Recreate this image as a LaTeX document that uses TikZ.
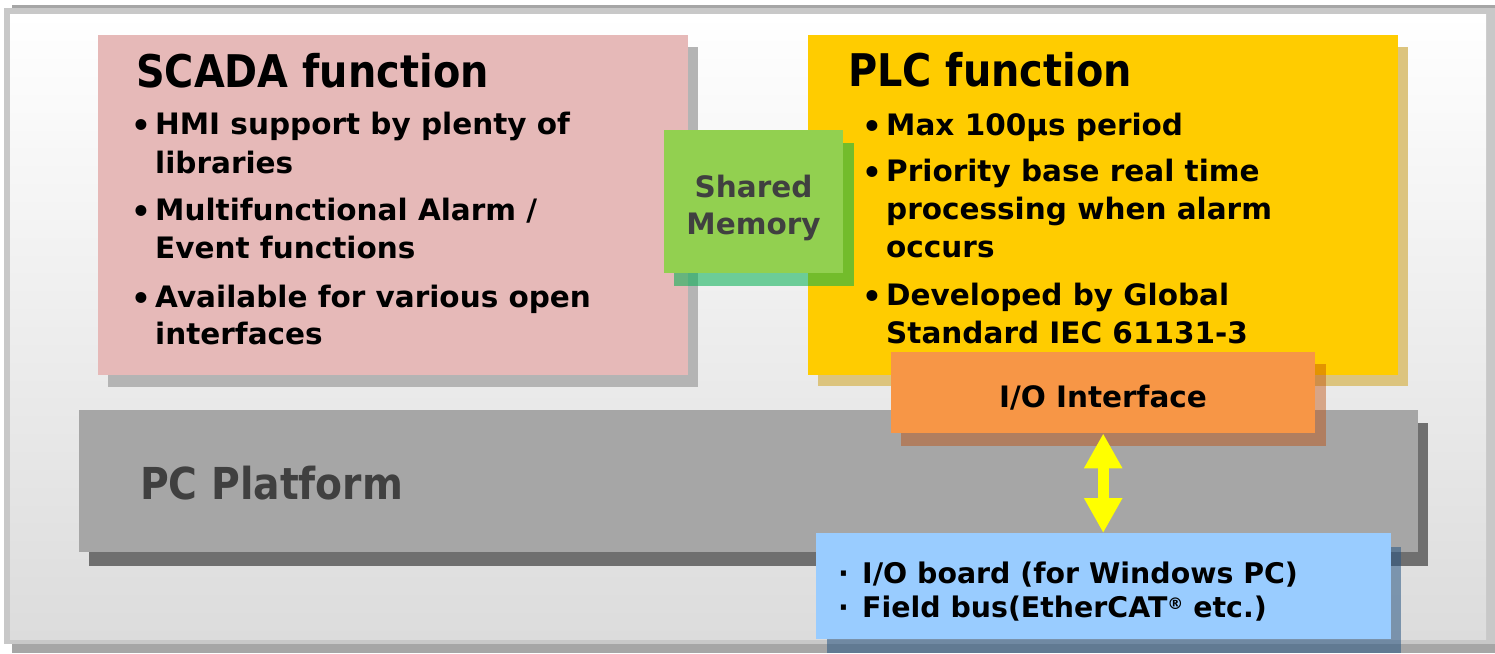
\documentclass[tikz,border=0pt]{standalone}
\usepackage{fontspec}
\setmainfont{DejaVu Sans}
\newfontfamily\ttlfont{DejaVu Sans}[FakeStretch=0.885]
\newfontfamily\pcfont{DejaVu Sans}[FakeStretch=0.892]
\usetikzlibrary{arrows.meta}
\definecolor{framedark}{HTML}{A6A6A6}
\definecolor{framelight}{HTML}{C8C8C8}
\definecolor{bgbottom}{HTML}{DCDCDC}
\definecolor{scadafill}{HTML}{E6B9B8}
\definecolor{scadashadow}{HTML}{B4B4B4}
\definecolor{plcfill}{HTML}{FFCC00}
\definecolor{plcshadow}{HTML}{DCC47E}
\definecolor{memfill}{HTML}{92D050}
\definecolor{memshadow}{HTML}{00B050}
\definecolor{pcfill}{HTML}{A6A6A6}
\definecolor{pcshadow}{HTML}{6F6F6F}
\definecolor{iofill}{HTML}{F79646}
\definecolor{ioshadow}{HTML}{BE4700}
\definecolor{boardfill}{HTML}{99CCFF}
\definecolor{boardshadow}{HTML}{275582}
\definecolor{darktext}{HTML}{404040}
\definecolor{arrowyellow}{HTML}{FFFF00}
\tikzset{
  box/.style={draw=none, inner sep=0pt, anchor=north west},
  txt/.style={inner sep=0pt, anchor=base west, font=\fontsize{29.5}{35}\selectfont\bfseries},
  ttl/.style={inner sep=0pt, anchor=base west, font=\ttlfont\fontsize{45}{50}\selectfont\bfseries},
  bul/.style={inner sep=0pt, anchor=base west, font=\fontsize{31}{35}\selectfont\bfseries},
  small/.style={inner sep=0pt, anchor=base west, font=\fontsize{28.4}{32}\selectfont\bfseries},
  dbl/.style={draw=arrowyellow, line width=11pt, {Triangle[length=35pt,width=36pt]}-{Triangle[length=35pt,width=36pt]}}
}
\begin{document}
\begin{tikzpicture}[x=1pt,y=-1pt]
\useasboundingbox (0,0) rectangle (1495,653);
% outer frame
\fill[framedark] (12,5) rectangle (1495,653);
\fill[framelight] (4,8) rectangle (1495,644);
\shade[top color=white, bottom color=bgbottom] (10,14) rectangle (1486,639);
% PC platform
\fill[pcshadow] (89,423) rectangle (1428,566);
\node[box, fill=pcfill, minimum width=1339pt, minimum height=142pt] (pc) at (79,410) {};
\node[inner sep=0pt, anchor=base west, font=\pcfont\fontsize{44}{48}\selectfont\bfseries, text=darktext] (pct) at (140,499) {PC Platform};
% SCADA
\fill[scadashadow] (108,47) rectangle (698,387);
\node[box, fill=scadafill, minimum width=590pt, minimum height=340pt] (scada) at (98,35) {};
\node[ttl] (st) at (136,87) {SCADA function};
\node[bul] (sb1) at (131,136) {•};
\node[txt] (s1) at (155,134) {HMI support by plenty of};
\node[txt] (s2) at (155,173) {libraries};
\node[bul] (sb2) at (131,222) {•};
\node[txt] (s3) at (155,220) {Multifunctional Alarm /};
\node[txt] (s4) at (155,258) {Event functions};
\node[bul] (sb3) at (131,309) {•};
\node[txt] (s5) at (155,307) {Available for various open};
\node[txt] (s6) at (155,344) {interfaces};
% PLC
\fill[plcshadow] (818,47) rectangle (1408,386);
\node[box, fill=plcfill, minimum width=590pt, minimum height=340pt] (plc) at (808,35) {};
\node[ttl] (pt) at (848,86) {PLC function};
\node[bul] (pb1) at (862,137) {•};
\node[txt] (p1) at (886,135) {Max 100µs period};
\node[bul] (pb2) at (862,183) {•};
\node[txt] (p2) at (886,181) {Priority base real time};
\node[txt] (p3) at (886,219) {processing when alarm};
\node[txt] (p4) at (886,257) {occurs};
\node[bul] (pb3) at (862,307) {•};
\node[txt] (p5) at (886,305) {Developed by Global};
\node[txt] (p6) at (886,343) {Standard IEC 61131-3};
% Shared memory
\fill[memshadow, opacity=0.55] (674,143) rectangle (854,286);
\node[box, fill=memfill, minimum width=179pt, minimum height=143pt] (mem) at (664,130) {};
\node[inner sep=0pt, anchor=base, font=\fontsize{29.5}{35}\selectfont\bfseries, text=darktext] (m1) at (753.5,197) {Shared};
\node[inner sep=0pt, anchor=base, font=\fontsize{29.5}{35}\selectfont\bfseries, text=darktext] (m2) at (753.5,234) {Memory};
% I/O interface
\fill[ioshadow, opacity=0.42] (901,364) rectangle (1326,446);
\node[box, fill=iofill, minimum width=424pt, minimum height=81pt] (io) at (891,352) {};
\node[inner sep=0pt, anchor=base, font=\fontsize{29.5}{35}\selectfont\bfseries] (iot) at (1103,407) {I/O Interface};
% I/O board
\fill[boardshadow, opacity=0.54] (827,547) rectangle (1401,653);
\node[box, fill=boardfill, minimum width=575pt, minimum height=106pt] (board) at (816,533) {};
\node[small] (bb1) at (838,583) {·};
\node[small] (b1) at (862,583) {I/O board (for Windows PC)};
\node[small] (bb2) at (838,617) {·};
\node[small] (b2) at (862,617) {Field bus(EtherCAT{\fontsize{16}{16}\selectfont\raisebox{8pt}{®}} etc.)};
% arrow
\draw[dbl] (io.south) -- (io.south |- board.north);
\end{tikzpicture}
\end{document}
